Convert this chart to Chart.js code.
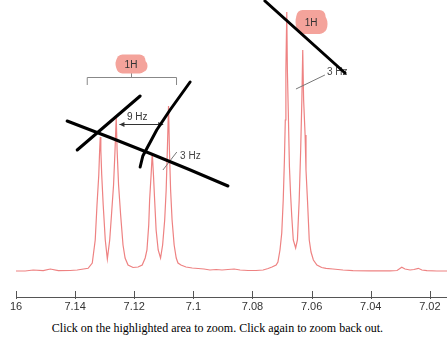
<!DOCTYPE html>
<html>
<head>
<meta charset="utf-8">
<script src="https://cdn.jsdelivr.net/npm/chart.js@4"></script>
<style>
  body { margin: 0; background: #fff; }
  #wrap { position: relative; width: 447px; height: 339px; }
  #caption {
    position: absolute; left: 0; top: 321px; width: 435px;
    text-align: center; font-family: "Liberation Serif", "Times New Roman", serif;
    font-size: 12px; color: #000;
  }
</style>
</head>
<body>
<div id="wrap">
  <canvas id="grafico" width="447" height="315"></canvas>
  <div id="caption">Click on the highlighted area to zoom. Click again to zoom back out.</div>
</div>
<script>
// chemical shift (ppm) and intensity
const ppm = [
  7.1600, 7.1569, 7.1542, 7.1508, 7.1484, 7.1457, 7.1417, 7.1393, 7.1356, 7.1342,
  7.1332, 7.1326, 7.1320, 7.1317, 7.1315, 7.1313, 7.1310, 7.1305, 7.1298, 7.1291,
  7.1283, 7.1277, 7.1270, 7.1265, 7.1261, 7.1258, 7.1253, 7.1246, 7.1238, 7.1231,
  7.1221, 7.1204, 7.1187, 7.1173, 7.1163, 7.1157, 7.1151, 7.1148, 7.1143, 7.1139,
  7.1135, 7.1131, 7.1126, 7.1119, 7.1111, 7.1104, 7.1097, 7.1092, 7.1088, 7.1084,
  7.1081, 7.1077, 7.1072, 7.1065, 7.1058, 7.1052, 7.1042, 7.1025, 7.1004, 7.0984,
  7.0964, 7.0944, 7.0923, 7.0903, 7.0883, 7.0862, 7.0842, 7.0815, 7.0788, 7.0764,
  7.0747, 7.0734, 7.0720, 7.0714, 7.0707, 7.0701, 7.0696, 7.0692, 7.0689, 7.0687,
  7.0684, 7.0682, 7.0679, 7.0675, 7.0671, 7.0667, 7.0662, 7.0654, 7.0648, 7.0645,
  7.0642, 7.0637, 7.0633, 7.0630, 7.0627, 7.0622, 7.0619, 7.0614, 7.0608, 7.0602,
  7.0594, 7.0582, 7.0566, 7.0551, 7.0528, 7.0494, 7.0460, 7.0403, 7.0335, 7.0311,
  7.0295, 7.0284, 7.0267, 7.0254, 7.0239, 7.0227, 7.0210, 7.0176, 7.0142
];
const intensidade = [
  -1, -1, 0, -0.7, 1, -0.7, -0.5, 0, 1.7, 7,
  30, 65, 95, 120, 133, 120, 95, 65, 30, 11,
  30, 55, 85, 120, 153, 120, 85, 55, 25, 12,
  5, 2.5, 3, 5, 12, 20, 45, 70, 95, 117,
  95, 70, 40, 20, 12, 25, 50, 80, 120, 164,
  120, 80, 50, 25, 12, 7, 5, 3, 2, 1.5,
  1, 0, 0.5, 0, 0.5, 1, 0, -0.5, -0.5, 0,
  1.5, 3, 5, 8, 20, 37, 70, 110, 150, 200,
  258, 200, 160, 103, 75, 53, 30, 22, 30, 50,
  70, 120, 170, 220, 170, 135, 100, 70, 30, 18,
  10, 5, 2.5, 1.7, 1, 0, -0.7, -0.8, -0.8, -0.5,
  2.7, 1, 0, 0.5, 1.7, 0, -0.7, -1, -1
];

const tickValues = [7.16, 7.14, 7.12, 7.10, 7.08, 7.06, 7.04, 7.02];
const tickLabels = ['16', '7.14', '7.12', '7.1', '7.08', '7.06', '7.04', '7.02'];

// hand drawn notes, in [ppm, intensity]
const riscos = [
  [[7.1427, 149], [7.1146, 116.5], [7.0883, 84]],
  [[7.1393, 120], [7.1180, 174]],
  [[7.1180, 103], [7.1171, 114], [7.1124, 140], [7.1079, 160], [7.1011, 188]],
  [[7.0758, 269], [7.0487, 197]]
];
const etiquetas1H = [[7.1211, 206], [7.0602, 248]];
const chave = { de: 7.1359, ate: 7.1057, meio: 7.1211, y: 193 };
const seta9Hz = { de: 7.1250, ate: 7.1102, y: 146, texto: [7.1190, 153] };
const notas3Hz = [
  { texto: [7.1045, 114], linha: [[7.1056, 118], [7.1103, 100]] },
  { texto: [7.0548, 198], linha: [[7.0555, 195], [7.0653, 181]] }
];

const pontos = ppm.map((p, i) => ({ x: p, y: intensidade[i] }));

const anotacoes = {
  id: 'anotacoes',
  afterDatasetsDraw(chart) {
    const ctx = chart.ctx;
    const sx = chart.scales.x, sy = chart.scales.y;
    const px = (v) => sx.getPixelForValue(v);
    const py = (v) => sy.getPixelForValue(v);
    const area = chart.chartArea;

    ctx.save();
    // axis line and ticks
    ctx.strokeStyle = '#555';
    ctx.lineWidth = 1;
    ctx.beginPath();
    ctx.moveTo(area.left, area.bottom + 0.5);
    ctx.lineTo(area.right, area.bottom + 0.5);
    tickValues.forEach((t) => {
      const x = Math.round(px(t)) + 0.5;
      ctx.moveTo(x, area.bottom - 6);
      ctx.lineTo(x, area.bottom + 2);
    });
    ctx.stroke();

    // bracket over the left multiplet
    ctx.strokeStyle = '#888';
    ctx.beginPath();
    ctx.moveTo(px(chave.de), py(chave.y) + 8);
    ctx.lineTo(px(chave.de), py(chave.y) + 0.5);
    ctx.lineTo(px(chave.ate), py(chave.y) + 0.5);
    ctx.lineTo(px(chave.ate), py(chave.y) + 8);
    ctx.moveTo(Math.round(px(chave.meio)) + 0.5, py(chave.y));
    ctx.lineTo(Math.round(px(chave.meio)) + 0.5, py(chave.y) - 5);
    ctx.stroke();

    // pink 1H blobs
    etiquetas1H.forEach(([p, v], i) => {
      const x = px(p), y = py(v);
      const w = 29, h = i === 0 ? 19 : 24;
      ctx.fillStyle = '#F4A39B';
      ctx.beginPath();
      ctx.roundRect(x - w / 2, y - h / 2, w, h, 6);
      ctx.fill();
      ctx.beginPath();
      ctx.ellipse(x - w / 2 + 3, y, 4, h / 2 - 3, 0, 0, Math.PI * 2);
      ctx.ellipse(x + w / 2 - 2, y + 2, 4, h / 2 - 4, 0, 0, Math.PI * 2);
      ctx.fill();
      ctx.fillStyle = '#333';
      ctx.font = '10px "Liberation Sans", Arial, sans-serif';
      ctx.textAlign = 'center';
      ctx.textBaseline = 'middle';
      ctx.fillText('1H', x, y + 1);
    });

    // 9 Hz arrow
    ctx.strokeStyle = '#333';
    ctx.fillStyle = '#333';
    const ya = py(seta9Hz.y) + 0.5;
    const x1 = px(seta9Hz.de), x2 = px(seta9Hz.ate);
    ctx.beginPath();
    ctx.moveTo(x1, ya);
    ctx.lineTo(x2, ya);
    ctx.stroke();
    [[x1, 1], [x2, -1]].forEach(([x, d]) => {
      ctx.beginPath();
      ctx.moveTo(x, ya);
      ctx.lineTo(x + 5 * d, ya - 2.5);
      ctx.lineTo(x + 5 * d, ya + 2.5);
      ctx.closePath();
      ctx.fill();
    });
    ctx.font = '10px "Liberation Sans", Arial, sans-serif';
    ctx.textAlign = 'center';
    ctx.textBaseline = 'middle';
    ctx.fillText('9 Hz', px(seta9Hz.texto[0]), py(seta9Hz.texto[1]));

    // 3 Hz notes
    notas3Hz.forEach((n) => {
      ctx.strokeStyle = '#777';
      ctx.beginPath();
      ctx.moveTo(px(n.linha[0][0]), py(n.linha[0][1]));
      ctx.lineTo(px(n.linha[1][0]), py(n.linha[1][1]));
      ctx.stroke();
      ctx.fillStyle = '#444';
      ctx.textAlign = 'left';
      ctx.fillText('3 Hz', px(n.texto[0]), py(n.texto[1]));
    });

    // black marker strokes
    ctx.strokeStyle = '#000';
    ctx.lineWidth = 3;
    ctx.lineCap = 'round';
    ctx.lineJoin = 'round';
    riscos.forEach((r) => {
      ctx.beginPath();
      ctx.moveTo(px(r[0][0]), py(r[0][1]));
      if (r.length === 3) {
        // pass through the middle point
        const mx = 2 * px(r[1][0]) - (px(r[0][0]) + px(r[2][0])) / 2;
        const my = 2 * py(r[1][1]) - (py(r[0][1]) + py(r[2][1])) / 2;
        ctx.quadraticCurveTo(mx, my, px(r[2][0]), py(r[2][1]));
      } else {
        for (let i = 1; i < r.length; i++) ctx.lineTo(px(r[i][0]), py(r[i][1]));
      }
      ctx.stroke();
    });
    ctx.restore();
  }
};

new Chart(document.getElementById('grafico').getContext('2d'), {
  type: 'line',
  data: {
    datasets: [{
      data: pontos,
      borderColor: '#EE8282',
      borderWidth: 1.2,
      pointRadius: 0,
      tension: 0,
      fill: false
    }]
  },
  options: {
    responsive: false,
    animation: false,
    events: [],
    layout: { padding: { left: 16, right: 0, top: 0, bottom: 0 } },
    plugins: { legend: { display: false }, tooltip: { enabled: false } },
    scales: {
      x: {
        type: 'linear',
        reverse: true,
        min: 7.0142,
        max: 7.16,
        afterBuildTicks: (scale) => { scale.ticks = tickValues.map((v) => ({ value: v })); },
        afterFit: (scale) => { scale.height = 18; },
        grid: { display: false, drawTicks: false },
        border: { display: false },
        ticks: {
          autoSkip: false,
          maxRotation: 0,
          padding: 3,
          color: '#333',
          font: { family: '"Liberation Sans", Arial, sans-serif', size: 11 },
          callback: (v, i) => tickLabels[i]
        }
      },
      y: { display: false, min: -27, max: 270 }
    }
  },
  plugins: [anotacoes]
});
</script>
</body>
</html>
